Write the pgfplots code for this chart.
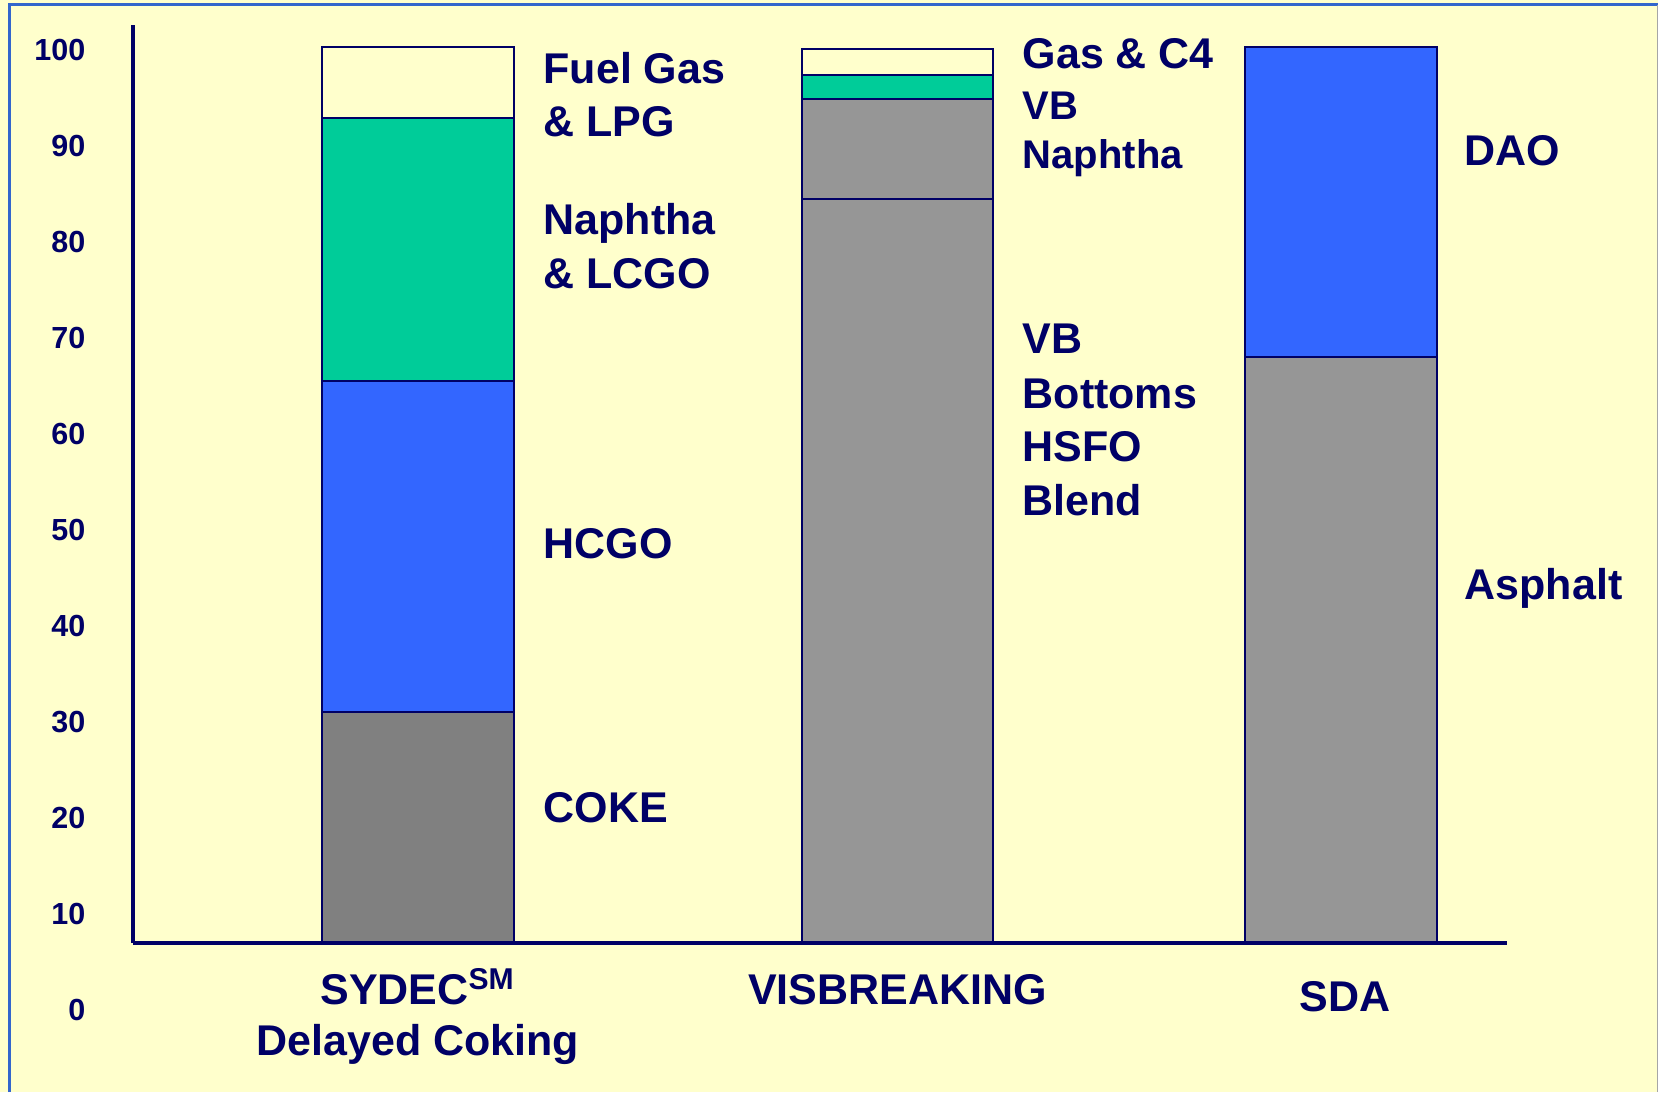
\documentclass[border=0pt]{standalone}
\usepackage{pgfplots}
\pgfplotsset{compat=1.18}
\usepackage{fontspec}
\setmainfont{Liberation Sans}
\definecolor{bg}{HTML}{FFFFCC}
\definecolor{navy}{HTML}{000066}
\definecolor{framec}{HTML}{3366CC}
\definecolor{cokegray}{HTML}{808080}
\definecolor{lgray}{HTML}{969696}
\definecolor{cblue}{HTML}{3366FF}
\definecolor{cgreen}{HTML}{00CC99}
\pgfplotsset{mybar/.style={ybar, bar width=191.5, bar shift=0pt, draw=navy, line width=0.65pt}}
\begin{document}
\begin{tikzpicture}
\useasboundingbox (0,0) rectangle (497.4pt,327.6pt);
\fill[bg] (0,0) rectangle (497.4pt,327.6pt);
\draw[framec, line width=0.9pt] (2.85pt,0pt) -- (2.85pt,326.2pt) -- (497.4pt,326.2pt);
\draw[gray!70, line width=0.4pt] (497.2pt,0pt) -- (497.2pt,326.2pt);
\begin{axis}[
  at={(39.9pt,44.7pt)}, anchor=south west,
  scale only axis, width=412.2pt, height=275.4pt,
  xmin=133, xmax=1507, ymin=6.95, ymax=102.6,
  axis lines=left,
  axis line style={-, draw=navy, line width=1pt},
  axis on top,
  major tick length=0pt,
  ytick={10,20,...,100},
  xtick={418,897.5,1341},
  xticklabels={{\begin{tabular}[t]{@{}c@{}}SYDEC\textsuperscript{SM}\\Delayed Coking\end{tabular}},{VISBREAKING\hspace{4.5pt}},{\hspace{2.4pt}\raisebox{-1.95pt}{SDA}}},
  /pgf/number format/assume math mode=true,
  yticklabel style={anchor=east, inner sep=0pt, xshift=-14.1pt, font=\fontsize{9.15}{11}\selectfont\bfseries, text=navy},
  xticklabel style={anchor=base, inner sep=0pt, yshift=-18.45pt, font=\fontsize{12.9}{15.2}\selectfont\bfseries, text=navy},
]
% SYDEC Delayed Coking (cumulative tops)
\addplot[mybar, fill=bg]       coordinates {(418,100.28)};
\addplot[mybar, fill=cgreen]   coordinates {(418,92.91)};
\addplot[mybar, fill=cblue]    coordinates {(418,65.54)};
\addplot[mybar, fill=cokegray] coordinates {(418,31.06)};
% Visbreaking
\addplot[mybar, fill=bg]       coordinates {(897.5,100.1)};
\addplot[mybar, fill=cgreen]   coordinates {(897.5,97.39)};
\addplot[mybar, fill=lgray]    coordinates {(897.5,94.86)};
\addplot[mybar, fill=lgray]    coordinates {(897.5,84.48)};
% SDA
\addplot[mybar, fill=cblue]    coordinates {(1341,100.34)};
\addplot[mybar, fill=lgray]    coordinates {(1341,67.98)};
\end{axis}
\begin{scope}[x=0.3pt,y=0.3pt, every node/.style={inner sep=0pt, text=navy, font=\fontsize{12.9}{15}\selectfont\bfseries}]
\node[anchor=east, font=\fontsize{9.15}{11}\selectfont\bfseries] at (86,82.3) {0};
\node[anchor=base west] at (543,1008.7) {Fuel Gas};
\node[anchor=base west] at (543,955.3) {\& LPG};
\node[anchor=base west] at (543,857) {Naphtha};
\node[anchor=base west] at (543,803.7) {\& LCGO};
\node[anchor=base west] at (543,533.7) {HCGO};
\node[anchor=base west] at (543,269.3) {COKE};
\node[anchor=base west] at (1022,1023.7) {Gas \& C4};
\node[anchor=base west, font=\fontsize{12}{14}\selectfont\bfseries] at (1022,972.7) {VB};
\node[anchor=base west, font=\fontsize{12}{14}\selectfont\bfseries] at (1022,923.7) {Naphtha};
\node[anchor=base west] at (1022,738) {VB};
\node[anchor=base west] at (1022,683.7) {Bottoms};
\node[anchor=base west] at (1022,630.3) {HSFO};
\node[anchor=base west] at (1022,577) {Blend};
\node[anchor=base west] at (1464,926) {DAO};
\node[anchor=base west] at (1464,493) {Asphalt};
\end{scope}
\end{tikzpicture}
\end{document}
